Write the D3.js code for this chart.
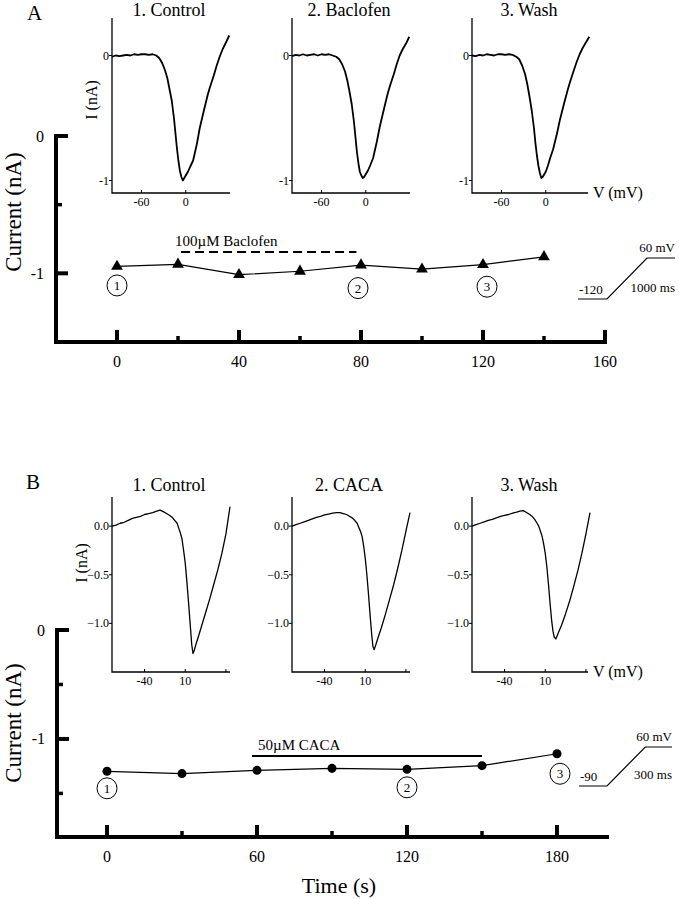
<!DOCTYPE html>
<html><head><meta charset="utf-8">
<script src="https://cdn.jsdelivr.net/npm/d3@7"></script>
<style>
body{margin:0;background:#fff}
svg{display:block}
text{font-family:"Liberation Serif","Times New Roman",serif;fill:#000}
</style>
</head><body><svg id="c" width="679" height="899"></svg>
<script>
// ---------- DATA ----------
// Panel A: time course (s) and peak current (nA)
const timeA = [0, 20, 40, 60, 80, 100, 120, 140];
const currentA = [-0.95, -0.935, -1.01, -0.985, -0.94, -0.97, -0.937, -0.88];
const majorTicksA = [0, 40, 80, 120, 160];
const minorTicksA = [20, 60, 100, 140];
const yTicksA = [0, -1];
const yMinorA = [-0.5];
const drugA = {label: "100\u00B5M Baclofen", start: 21, end: 78.5, level: -0.845};
const markersA = [{n: "1", t: 0}, {n: "2", t: 80}, {n: "3", t: 120}];

// Panel B
const timeB = [0, 30, 60, 90, 120, 150, 180];
const currentB = [-1.297, -1.318, -1.288, -1.27, -1.279, -1.245, -1.136];
const majorTicksB = [0, 60, 120, 180];
const minorTicksB = [30, 90, 150];
const yTicksB = [0, -1];
const yMinorB = [-0.5, -1.5];
const drugB = {label: "50\u00B5M CACA", start: 58, end: 150, level: -1.157};
const markersB = [{n: "1", t: 0}, {n: "2", t: 120}, {n: "3", t: 180}];

// Inset I-V traces, panel A (ramp -120 to 60 mV)
const vGridA = [-100,-95,-90,-85,-80,-75,-70,-65,-60,-55,-50,-45,-40,-36,-32,-28,-25,-22,-19,-16,-14,-12,-10,-8,-6,-4,-2,0,3,6,10,15,19,25,30,33,38,42,46,50,55,59];
const iA1 = [-0.01,0.0,-0.005,0.0,0.005,0.0,0.01,0.005,0.01,0.01,0.005,0.01,0.0,-0.02,-0.06,-0.12,-0.18,-0.27,-0.36,-0.5,-0.62,-0.74,-0.84,-0.92,-0.97,-1.0,-0.98,-0.96,-0.93,-0.89,-0.84,-0.71,-0.58,-0.43,-0.31,-0.25,-0.16,-0.08,-0.01,0.05,0.11,0.16];
const iA2 = [-0.005,0.005,0.0,0.01,0.0,0.005,0.01,0.0,0.01,0.005,0.01,0.0,-0.01,-0.03,-0.07,-0.13,-0.2,-0.29,-0.39,-0.53,-0.65,-0.77,-0.86,-0.93,-0.96,-0.98,-0.97,-0.95,-0.92,-0.88,-0.82,-0.69,-0.57,-0.42,-0.3,-0.24,-0.15,-0.07,0.0,0.05,0.1,0.15];
const iA3 = [0.0,-0.005,0.005,0.0,0.01,0.005,0.0,0.01,0.01,0.005,0.01,0.005,-0.01,-0.03,-0.08,-0.15,-0.23,-0.33,-0.44,-0.58,-0.7,-0.8,-0.88,-0.94,-0.98,-0.97,-0.95,-0.93,-0.88,-0.82,-0.75,-0.63,-0.52,-0.38,-0.27,-0.21,-0.12,-0.05,0.01,0.06,0.11,0.15];
const titlesA = ["1. Control", "2. Baclofen", "3. Wash"];
const insetXTicksA = [-60, 0];
const insetYTicksA = [0, -1];

// Inset I-V traces, panel B (ramp -90 to 60 mV)
const vGridB = [-80,-75,-70,-65,-60,-55,-50,-45,-40,-35,-30,-25,-21,-17,-13,-9,-6,-3,0,2,4,6,8,10,12,14,16,18,19.5,21,23,26,30,35,40,45,50,55,60,65];
const iB1 = [0.0,0.01,0.03,0.04,0.06,0.08,0.09,0.1,0.12,0.13,0.14,0.155,0.165,0.15,0.13,0.11,0.09,0.06,0.03,-0.02,-0.07,-0.13,-0.25,-0.38,-0.57,-0.78,-1.0,-1.22,-1.31,-1.28,-1.22,-1.14,-1.03,-0.89,-0.75,-0.6,-0.45,-0.28,-0.08,0.2];
const iB2 = [0.0,0.015,0.03,0.045,0.06,0.075,0.09,0.1,0.115,0.125,0.135,0.14,0.14,0.13,0.12,0.1,0.085,0.06,0.03,-0.01,-0.05,-0.1,-0.2,-0.33,-0.5,-0.7,-0.92,-1.12,-1.24,-1.27,-1.22,-1.14,-1.04,-0.9,-0.75,-0.6,-0.43,-0.25,-0.05,0.14];
const iB3 = [0.0,0.015,0.03,0.045,0.06,0.07,0.085,0.1,0.11,0.12,0.135,0.145,0.155,0.16,0.14,0.12,0.1,0.07,0.03,0.0,-0.05,-0.1,-0.18,-0.28,-0.42,-0.6,-0.8,-0.98,-1.08,-1.14,-1.16,-1.1,-1.02,-0.9,-0.77,-0.62,-0.46,-0.28,-0.08,0.14];
const titlesB = ["1. Control", "2. CACA", "3. Wash"];
const insetXTicksB = [-40, 10];
const insetXMinorB = [60];
const insetYTicksB = [0, -0.5, -1];

// Voltage ramp protocols
const rampA_t = [-725, 0, 1000, 1700];
const rampA_v = [-120, -120, 60, 60];
const rampB_t = [-220, 0, 300, 510];
const rampB_v = [-90, -90, 60, 60];

// ---------- DRAWING ----------
const svg = d3.select("#c");

function mainPanel(cfg) {
  const g = svg.append("g");
  const x = d3.scaleLinear().domain(cfg.xDomain).range(cfg.xRange);
  const y = d3.scaleLinear().domain(cfg.yDomain).range(cfg.yRange);
  const x0 = cfg.xRange[0], yb = cfg.yRange[0], yt = cfg.yRange[1], xr = cfg.xRange[1];
  g.append("path")
    .attr("d", `M${x0},${yt} V${yb} H${xr}`)
    .attr("fill", "none").attr("stroke", "#000").attr("stroke-width", 4)
    .attr("stroke-linecap", "square").attr("stroke-linejoin", "miter");
  g.selectAll(".xmaj").data(cfg.xMajor).join("line")
    .attr("x1", d => x(d)).attr("x2", d => x(d)).attr("y1", yb).attr("y2", yb - 12)
    .attr("stroke", "#000").attr("stroke-width", 4);
  g.selectAll(".xmin").data(cfg.xMinor).join("line")
    .attr("x1", d => x(d)).attr("x2", d => x(d)).attr("y1", yb).attr("y2", yb - 6)
    .attr("stroke", "#000").attr("stroke-width", 3.5);
  g.selectAll(".xlab").data(cfg.xMajor).join("text")
    .attr("x", d => x(d)).attr("y", yb + 25).attr("text-anchor", "middle")
    .attr("font-size", 16).text(d => d);
  g.selectAll(".ymaj").data(cfg.yMajor).join("line")
    .attr("x1", x0).attr("x2", x0 + 12).attr("y1", d => y(d)).attr("y2", d => y(d))
    .attr("stroke", "#000").attr("stroke-width", 4);
  g.selectAll(".ymin").data(cfg.yMinor).join("line")
    .attr("x1", x0).attr("x2", x0 + 6).attr("y1", d => y(d)).attr("y2", d => y(d))
    .attr("stroke", "#000").attr("stroke-width", 3.5);
  g.selectAll(".ylab").data(cfg.yMajor).join("text")
    .attr("x", x0 - 12).attr("y", d => y(d) + 5.5).attr("text-anchor", "end")
    .attr("font-size", 16).text(d => d);
  g.append("text")
    .attr("transform", `translate(21,${cfg.ylabelCenter}) rotate(-90)`)
    .attr("text-anchor", "middle").attr("font-size", 23).text("Current (nA)");
  g.append("line")
    .attr("x1", x(cfg.drug.start)).attr("x2", x(cfg.drug.end))
    .attr("y1", y(cfg.drug.level)).attr("y2", y(cfg.drug.level))
    .attr("stroke", "#000").attr("stroke-width", 2)
    .attr("stroke-dasharray", cfg.dashed ? "9,5" : null);
  g.append("text")
    .attr("x", x(cfg.drug.start) + cfg.labelDx).attr("y", y(cfg.drug.level) - 6)
    .attr("font-size", 15).text(cfg.drug.label);
  const pts = cfg.t.map((t, i) => [t, cfg.v[i]]);
  g.append("path").datum(pts)
    .attr("d", d3.line().x(d => x(d[0])).y(d => y(d[1])))
    .attr("fill", "none").attr("stroke", "#000").attr("stroke-width", 1.2);
  g.selectAll(".mk").data(pts).join("path")
    .attr("transform", d => `translate(${x(d[0])},${y(d[1])})`)
    .attr("d", d3.symbol().type(cfg.symbol).size(cfg.symbolSize))
    .attr("fill", "#000");
  cfg.markers.forEach((m, i) => {
    const idx = cfg.t.indexOf(m.t);
    const cx = x(m.t) + cfg.markerOff[i][0];
    const cy = y(cfg.v[idx]) + cfg.markerOff[i][1];
    g.append("ellipse").attr("cx", cx).attr("cy", cy).attr("rx", 10).attr("ry", 10.5)
      .attr("fill", "#fff").attr("stroke", "#000").attr("stroke-width", 1);
    g.append("text").attr("x", cx).attr("y", cy + 4.5).attr("text-anchor", "middle")
      .attr("font-size", 13).text(m.n);
  });
  return {x, y};
}

function inset(cfg) {
  const g = svg.append("g");
  const x = d3.scaleLinear().domain(cfg.xDomain).range([cfg.left, cfg.left + 118]);
  const y = d3.scaleLinear().domain(cfg.yDomain).range([cfg.bottom, cfg.top]);
  g.append("path")
    .attr("d", `M${cfg.left},${cfg.top} V${cfg.bottom} H${cfg.left + cfg.axisLen}`)
    .attr("fill", "none").attr("stroke", "#000").attr("stroke-width", 1.3);
  g.selectAll(".yt").data(cfg.yTicks).join("line")
    .attr("x1", cfg.left - 3).attr("x2", cfg.left).attr("y1", d => y(d)).attr("y2", d => y(d))
    .attr("stroke", "#000").attr("stroke-width", 1);
  g.selectAll(".yl").data(cfg.yTicks).join("text")
    .attr("x", cfg.left - 3).attr("y", d => y(d) + 4).attr("text-anchor", "end")
    .attr("font-size", 12).text(d => cfg.yFmt(d));
  g.selectAll(".xt").data(cfg.xTicks.concat(cfg.xMinor)).join("line")
    .attr("x1", d => x(d)).attr("x2", d => x(d)).attr("y1", cfg.bottom).attr("y2", cfg.bottom - 3)
    .attr("stroke", "#000").attr("stroke-width", 1);
  g.selectAll(".xl").data(cfg.xTicks).join("text")
    .attr("x", d => x(d)).attr("y", cfg.bottom + 13).attr("text-anchor", "middle")
    .attr("font-size", 12).text(d => d);
  g.append("text").attr("x", cfg.left + 57).attr("y", cfg.titleY)
    .attr("text-anchor", "middle").attr("font-size", 18).text(cfg.title);
  if (cfg.ylabel) {
    g.append("text")
      .attr("transform", `translate(${cfg.ylabelX},${cfg.ylabelY}) rotate(-90)`)
      .attr("text-anchor", "middle").attr("font-size", 16).text("I (nA)");
  }
  if (cfg.xlabel) {
    g.append("text").attr("x", cfg.left + cfg.axisLen + 5).attr("y", cfg.bottom + 5)
      .attr("font-size", 16).text("V (mV)");
  }
  const pts = cfg.v.map((v, i) => [v, cfg.i[i]]);
  g.append("path").datum(pts)
    .attr("d", d3.line().x(d => x(d[0])).y(d => y(d[1])))
    .attr("fill", "none").attr("stroke", "#000").attr("stroke-width", cfg.sw)
    .attr("stroke-linejoin", "round");
}

function ramp(cfg) {
  const x = d3.scaleLinear().domain(cfg.tDomain).range(cfg.xRange);
  const y = d3.scaleLinear().domain(cfg.vDomain).range(cfg.yRange);
  const pts = cfg.t.map((t, i) => [t, cfg.v[i]]);
  const g = svg.append("g");
  g.append("path").datum(pts)
    .attr("d", d3.line().x(d => x(d[0])).y(d => y(d[1])))
    .attr("fill", "none").attr("stroke", "#000").attr("stroke-width", 1.2);
  g.append("text").attr("x", x(cfg.t[3])).attr("y", y(cfg.v[3]) - 6)
    .attr("text-anchor", "end").attr("font-size", 13).text(cfg.v[3] + " mV");
  g.append("text").attr("x", x(cfg.t[0]) + 1).attr("y", y(cfg.v[0]) - 5)
    .attr("font-size", 13).text(cfg.v[0]);
  g.append("text").attr("x", x(cfg.t[3])).attr("y", y(cfg.v[0]) - 7)
    .attr("text-anchor", "end").attr("font-size", 13).text(cfg.t[2] + " ms");
}

svg.append("text").attr("x", 27).attr("y", 20).attr("font-size", 21).text("A");
svg.append("text").attr("x", 26).attr("y", 489).attr("font-size", 21).text("B");

mainPanel({
  xDomain: [-20, 160], xRange: [56, 605], yDomain: [-1.5, 0], yRange: [342, 136],
  xMajor: majorTicksA, xMinor: minorTicksA, yMajor: yTicksA, yMinor: yMinorA,
  drug: drugA, dashed: true, labelDx: -6, ylabelCenter: 212,
  t: timeA, v: currentA, symbol: d3.symbolTriangle, symbolSize: 60,
  markers: markersA, markerOff: [[0, 19], [-3, 23], [4, 22]]
});
mainPanel({
  xDomain: [-20, 200], xRange: [57, 607], yDomain: [-1.9, 0], yRange: [837, 630],
  xMajor: majorTicksB, xMinor: minorTicksB, yMajor: yTicksB, yMinor: yMinorB,
  drug: drugB, dashed: false, labelDx: 6, ylabelCenter: 723,
  t: timeB, v: currentB, symbol: d3.symbolCircle, symbolSize: 64,
  markers: markersB, markerOff: [[0, 17], [0, 18], [3, 20]]
});
svg.append("text").attr("x", 339).attr("y", 893).attr("text-anchor", "middle")
  .attr("font-size", 22).text("Time (s)");

const insetLefts = [112, 292, 472];
[iA1, iA2, iA3].forEach((tr, k) => inset({
  left: insetLefts[k], top: 18, bottom: 193, axisLen: k === 2 ? 116 : 118,
  xDomain: [-100, 60], yDomain: [-1.1, 0.3],
  xTicks: insetXTicksA, xMinor: [], yTicks: insetYTicksA, yFmt: d => d,
  title: titlesA[k], titleY: 16, ylabel: k === 0, ylabelX: 97, ylabelY: 100,
  xlabel: k === 2, v: vGridA, i: tr, sw: 1.8
}));
[iB1, iB2, iB3].forEach((tr, k) => inset({
  left: insetLefts[k], top: 497, bottom: 672, axisLen: k === 2 ? 116 : 118,
  xDomain: [-80, 65], yDomain: [-1.5, 0.3],
  xTicks: insetXTicksB, xMinor: insetXMinorB, yTicks: insetYTicksB, yFmt: d3.format(".1f"),
  title: titlesB[k], titleY: 491, ylabel: k === 0, ylabelX: 87, ylabelY: 563,
  xlabel: k === 2, v: vGridB, i: tr, sw: 1.3
}));

ramp({t: rampA_t, v: rampA_v, tDomain: [-725, 1700], xRange: [578, 675], vDomain: [-120, 60], yRange: [299, 258]});
ramp({t: rampB_t, v: rampB_v, tDomain: [-220, 510], xRange: [579, 672], vDomain: [-90, 60], yRange: [786, 747]});
</script>
</body></html>
